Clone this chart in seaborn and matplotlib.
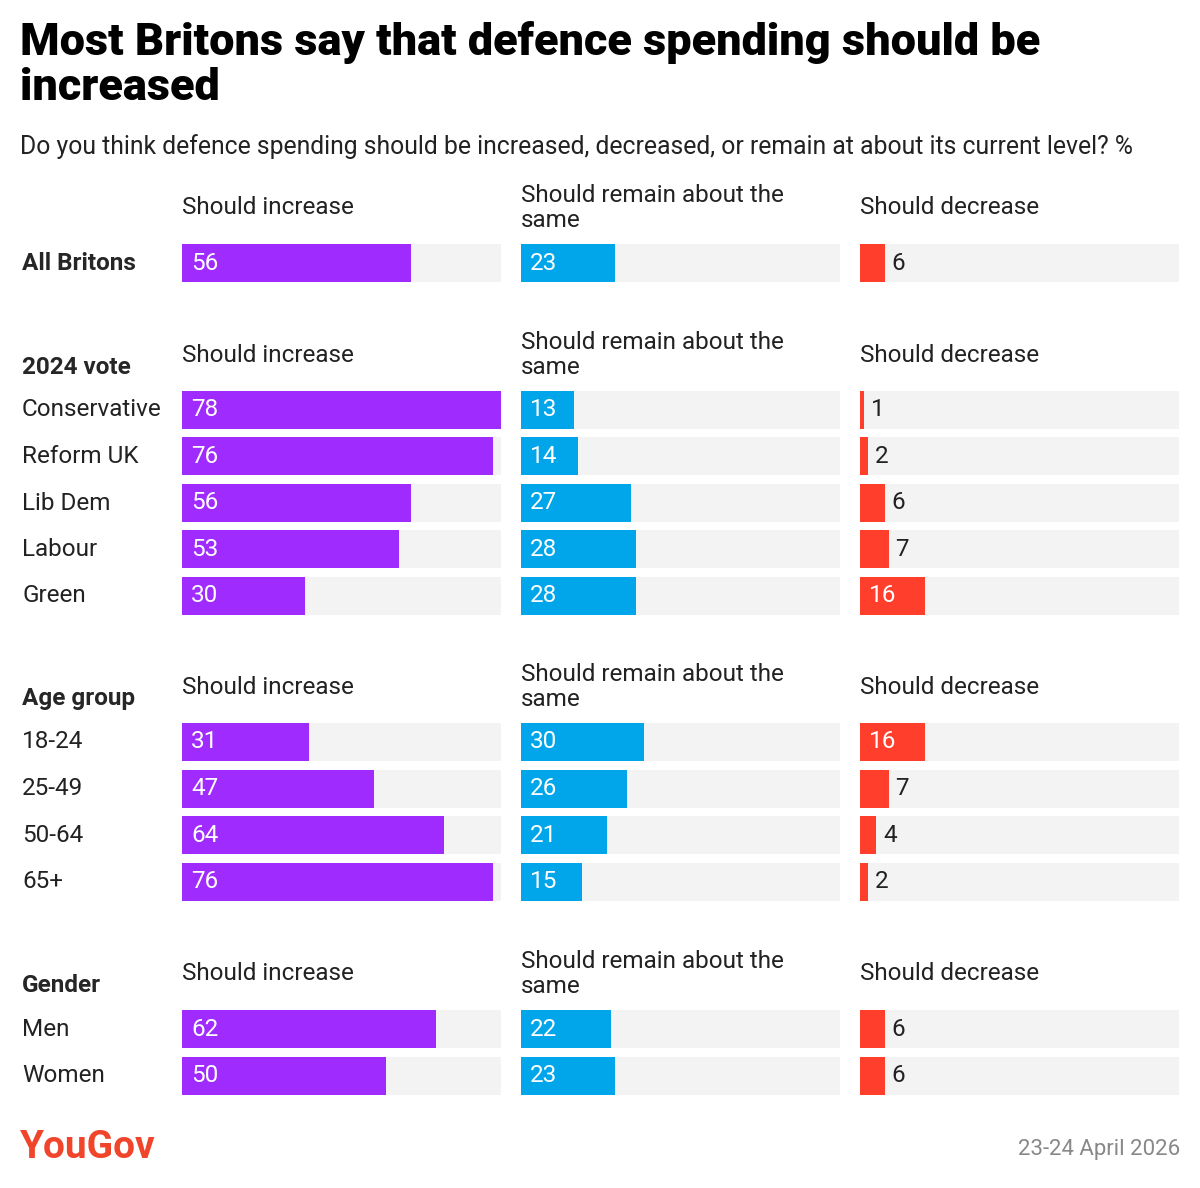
import matplotlib
matplotlib.use("Agg")
import matplotlib.pyplot as plt
import seaborn as sns
import pandas as pd

sns.set_theme(style="white")
plt.rcParams['font.family'] = ['Roboto', 'DejaVu Sans']

groups = ["All Britons", "2024 vote", "Age group", "Gender"]
group_rows = [
    ["All Britons"],
    ["Conservative", "Reform UK", "Lib Dem", "Labour", "Green"],
    ["18-24", "25-49", "50-64", "65+"],
    ["Men", "Women"],
]
increase = [[56], [78, 76, 56, 53, 30], [31, 47, 64, 76], [62, 50]]
remain = [[23], [13, 14, 27, 28, 28], [30, 26, 21, 15], [22, 23]]
decrease = [[6], [1, 2, 6, 7, 16], [16, 7, 4, 2], [6, 6]]
col_titles = ["Should increase", "Should remain about the\nsame", "Should decrease"]
colors = ["#a02bff", "#00a5ea", "#ff3f2b"]
title = "Most Britons say that defence spending should be\nincreased"
subtitle = "Do you think defence spending should be increased, decreased, or remain at about its current level? %"
date_text = "23-24 April 2026"

W, H = 1200, 1188
fig = plt.figure(figsize=(W/100, H/100), dpi=100)
XMAX = 78
first_centers = [263, 410, 742, 1029]
pitch = 46.5
bh = 38
col_x = [182, 521, 860]
col_w = 319

def fx(px): return px / W
def fy(py): return 1 - py / H

fig.text(fx(20), fy(65), title, fontsize=32.5, fontweight='black', va='center', ha='left',
         color='black', linespacing=1.12)
fig.text(fx(20), fy(147), subtitle, fontsize=17.8, va='center', ha='left', color='#222222')

for gi, gname in enumerate(groups):
    rows = group_rows[gi]
    n = len(rows)
    c0 = first_centers[gi]
    top = c0 - bh/2
    height = pitch*(n-1) + bh
    w = bh / pitch
    if gi == 0:
        fig.text(fx(22), fy(c0), gname, fontsize=17.5, fontweight='bold', va='center', ha='left')
    else:
        fig.text(fx(22), fy(c0 - 43), gname, fontsize=17.5, fontweight='bold', va='center', ha='left')
        for ri, r in enumerate(rows):
            fig.text(fx(22), fy(c0 + ri*pitch), r, fontsize=17.5, va='center', ha='left', color='#222222')
    for ci, vals in enumerate([increase[gi], remain[gi], decrease[gi]]):
        ax = fig.add_axes([fx(col_x[ci]), fy(top + height), col_w / W, height / H])
        df = pd.DataFrame({"cat": rows, "val": vals, "bg": [XMAX]*n})
        sns.barplot(data=df, y="cat", x="bg", color="#f3f3f3", width=w, ax=ax, saturation=1,
                    orient='h', linewidth=0)
        sns.barplot(data=df, y="cat", x="val", color=colors[ci], width=w, ax=ax, saturation=1,
                    orient='h', linewidth=0)
        ax.set_xlim(0, XMAX)
        ax.set_ylim(n - 1 + w/2, -w/2)
        ax.axis('off')
        for ri, v in enumerate(vals):
            if v >= 10:
                ax.text(2.2, ri, str(v), color='white', fontsize=17.5, va='center', ha='left')
            else:
                ax.text(v + 1.6, ri, str(v), color='#222222', fontsize=17.5, va='center', ha='left')
        fig.text(fx(col_x[ci]), fy(c0 - 55), col_titles[ci], fontsize=17.5, va='center',
                 ha='left', color='#222222', linespacing=1.12)

fig.text(fx(20), fy(1148), "YouGov", fontsize=28, fontweight='bold', color='#f0442b', va='center', ha='left')
fig.text(fx(1180), fy(1150), date_text, fontsize=16, color='#888888', va='center', ha='right')

fig.savefig("out.png", dpi=100)
